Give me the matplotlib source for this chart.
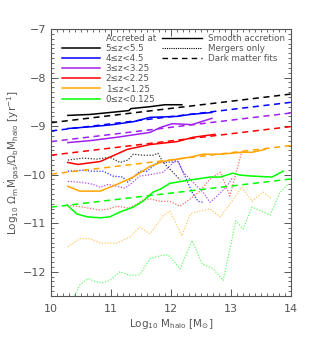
import numpy as np
import matplotlib
matplotlib.use("Agg")
import matplotlib.pyplot as plt
from matplotlib.lines import Line2D
from matplotlib.ticker import MultipleLocator

labels = ["5≤z<5.5", "4≤z<4.5", "3≤z<3.25", "2≤z<2.25", "1≤z<1.25", "0≤z<0.125"]
colors = ["#000000", "#0000ff", "#a020f0", "#ff0000", "#ffa500", "#00ff00"]

# Smooth accretion (solid)
smooth_x = [
    [10.28, 10.65, 10.98, 11.3, 11.33, 11.65, 11.9, 12.18],
    [10.28, 10.7, 11.03, 11.37, 11.65, 12.1, 12.32, 12.68],
    [10.28, 10.65, 11.1, 11.65, 11.82, 12.02, 12.35, 12.68],
    [10.28, 10.45, 10.82, 11.27, 11.65, 12.1, 12.37, 12.73],
    [10.28, 10.48, 10.82, 11.1, 11.37, 11.65, 11.87, 12.1, 12.32, 12.53, 12.82, 13.18, 13.35, 13.57],
    [10.27, 10.43, 10.6, 10.82, 10.98, 11.15, 11.37, 11.53, 11.7, 11.82, 11.98, 12.32, 12.65, 12.82,
     13.03, 13.15, 13.35, 13.68, 13.87],
]
smooth_y = [
    [-8.78, -8.76, -8.72, -8.68, -8.64, -8.60, -8.56, -8.56],
    [-9.05, -9.01, -8.97, -8.91, -8.82, -8.80, -8.76, -8.72],
    [-9.34, -9.30, -9.23, -9.13, -9.03, -8.95, -8.97, -8.84],
    [-9.75, -9.79, -9.73, -9.48, -9.38, -9.32, -9.23, -9.17],
    [-10.24, -10.34, -10.34, -10.20, -10.05, -9.83, -9.73, -9.68, -9.64, -9.58, -9.58, -9.54, -9.54, -9.48],
    [-10.63, -10.81, -10.87, -10.89, -10.87, -10.77, -10.67, -10.55, -10.36, -10.30, -10.18, -10.11, -10.05,
     -10.05, -9.97, -10.01, -10.03, -10.05, -9.93],
]

# Mergers only (dotted)
merger_x = [
    [10.28, 10.53, 10.77, 10.98, 11.15, 11.28, 11.37, 11.53, 11.7, 11.78, 11.87, 12.03, 12.15],
    [10.28, 10.53, 10.7, 10.87, 11.03, 11.2, 11.27, 11.37, 11.48, 11.6, 11.77, 11.87, 12.12, 12.23, 12.35,
     12.45, 12.53],
    [10.28, 10.52, 10.7, 10.82, 10.95, 11.1, 11.23, 11.32, 11.48, 11.7, 11.87, 12.1, 12.2, 12.37, 12.53,
     12.65, 12.77, 12.93, 13.03],
    [10.27, 10.53, 10.82, 10.95, 11.1, 11.28, 11.43, 11.53, 11.65, 11.82, 11.98, 12.15, 12.32, 12.48, 12.65,
     12.82, 12.98, 13.18],
    [10.28, 10.48, 10.65, 10.82, 11.1, 11.32, 11.48, 11.65, 11.87, 11.98, 12.18, 12.32, 12.48, 12.65, 12.82,
     12.98, 13.18, 13.35, 13.53, 13.68],
    [10.35, 10.48, 10.62, 10.73, 10.87, 10.98, 11.15, 11.32, 11.48, 11.65, 11.82, 11.95, 12.15, 12.35, 12.52,
     12.7, 12.87, 13.08, 13.2, 13.35, 13.65, 13.82, 13.95],
]
merger_y = [
    [-9.70, -9.66, -9.68, -9.64, -9.75, -9.70, -9.58, -9.60, -9.60, -9.56, -9.75, -9.95, -10.11],
    [-9.93, -9.91, -9.93, -9.93, -10.03, -10.05, -10.16, -10.05, -9.93, -9.93, -9.75, -9.75, -9.73, -10.03,
     -10.36, -10.55, -10.57],
    [-10.14, -10.16, -10.20, -10.26, -10.20, -10.24, -10.28, -10.20, -10.03, -9.99, -9.95, -9.68, -9.95,
     -10.16, -10.36, -10.57, -10.44, -10.24, -10.05],
    [-10.63, -10.67, -10.73, -10.71, -10.65, -10.69, -10.61, -10.52, -10.50, -10.55, -10.55, -10.65, -10.50,
     -10.34, -10.09, -9.95, -10.44, -9.52],
    [-11.49, -11.32, -11.32, -11.41, -11.41, -11.28, -11.08, -11.22, -10.85, -10.75, -11.26, -10.81, -10.75,
     -10.71, -10.87, -10.61, -10.26, -10.55, -10.36, -10.50],
    [-12.60, -12.27, -12.14, -12.20, -12.23, -12.18, -12.00, -12.08, -12.06, -11.73, -11.67, -11.65, -11.94,
     -11.36, -11.84, -11.94, -12.18, -10.95, -11.12, -10.67, -10.83, -10.36, -10.20],
]

# Dark matter fits (dashed), endpoints
fit_x = [10.0, 14.0]
fit_y = [
    [-8.93, -8.34],
    [-9.10, -8.51],
    [-9.32, -8.73],
    [-9.60, -9.01],
    [-9.99, -9.40],
    [-10.67, -10.09],
]

gray = "#555555"
plt.rcParams['font.family'] = ['DejaVu Sans']
fig = plt.figure(figsize=(3.15, 3.54), dpi=100)
ax = fig.add_axes([0.162, 0.164, 0.762, 0.754])

for i in range(6):
    ax.plot(fit_x, fit_y[i], color=colors[i], ls=(0, (4, 3)), lw=1.1)
    ax.plot(merger_x[i], merger_y[i], color=colors[i], ls=(0, (1, 1.3)), lw=0.9, alpha=0.6 if i >= 3 else 0.8)
    ax.plot(smooth_x[i], smooth_y[i], color=colors[i], ls='-', lw=1.1)

ax.set_xlim(10, 14)
ax.set_ylim(-12.5, -7)
ax.xaxis.set_major_locator(MultipleLocator(1))
ax.xaxis.set_minor_locator(MultipleLocator(0.1))
ax.yaxis.set_major_locator(MultipleLocator(1))
ax.yaxis.set_minor_locator(MultipleLocator(0.1))
ax.tick_params(which='both', direction='in', top=True, right=True, color=gray,
               labelcolor=gray, labelsize=8)
ax.tick_params(which='major', length=5, width=0.7)
ax.tick_params(which='minor', length=2.5, width=0.6)
ax.tick_params(axis='x', pad=6)
for s in ax.spines.values():
    s.set_color(gray)
    s.set_linewidth(0.8)

ax.set_xlabel(r'Log$_{10}$ M$_{\rm halo}$ [M$_{\odot}$]', color=gray, fontsize=7.5, labelpad=2)
ax.set_ylabel(r'Log$_{10}$ $\Omega_{\rm m}\dot{\rm M}_{\rm gas}/\Omega_{\rm b}{\rm M}_{\rm halo}$ [yr$^{-1}$]',
              color=gray, fontsize=7.5, labelpad=1)

h1 = [Line2D([], [], color='none', lw=0)] + [Line2D([], [], color=colors[i], lw=1.1) for i in range(6)]
leg1 = ax.legend(h1, ['Accreted at'] + labels, loc='upper left', bbox_to_anchor=(0.02, 1.005), frameon=False,
                 fontsize=6.3, handlelength=4.3, handletextpad=0.7, labelspacing=0.13,
                 borderpad=0.2, labelcolor=gray)
ax.add_artist(leg1)

h2 = [Line2D([], [], color='k', lw=1.0, ls='-'),
      Line2D([], [], color='k', lw=0.8, ls=(0, (1, 1))),
      Line2D([], [], color='k', lw=1.0, ls=(0, (4, 3)))]
ax.legend(h2, ['Smooth accretion', 'Mergers only', 'Dark matter fits'], loc='upper right',
          bbox_to_anchor=(1.0, 1.005), frameon=False, fontsize=6.3, handlelength=4.5,
          handletextpad=0.7, labelspacing=0.13, borderpad=0.2, labelcolor=gray)

fig.savefig('out.png', dpi=100)
